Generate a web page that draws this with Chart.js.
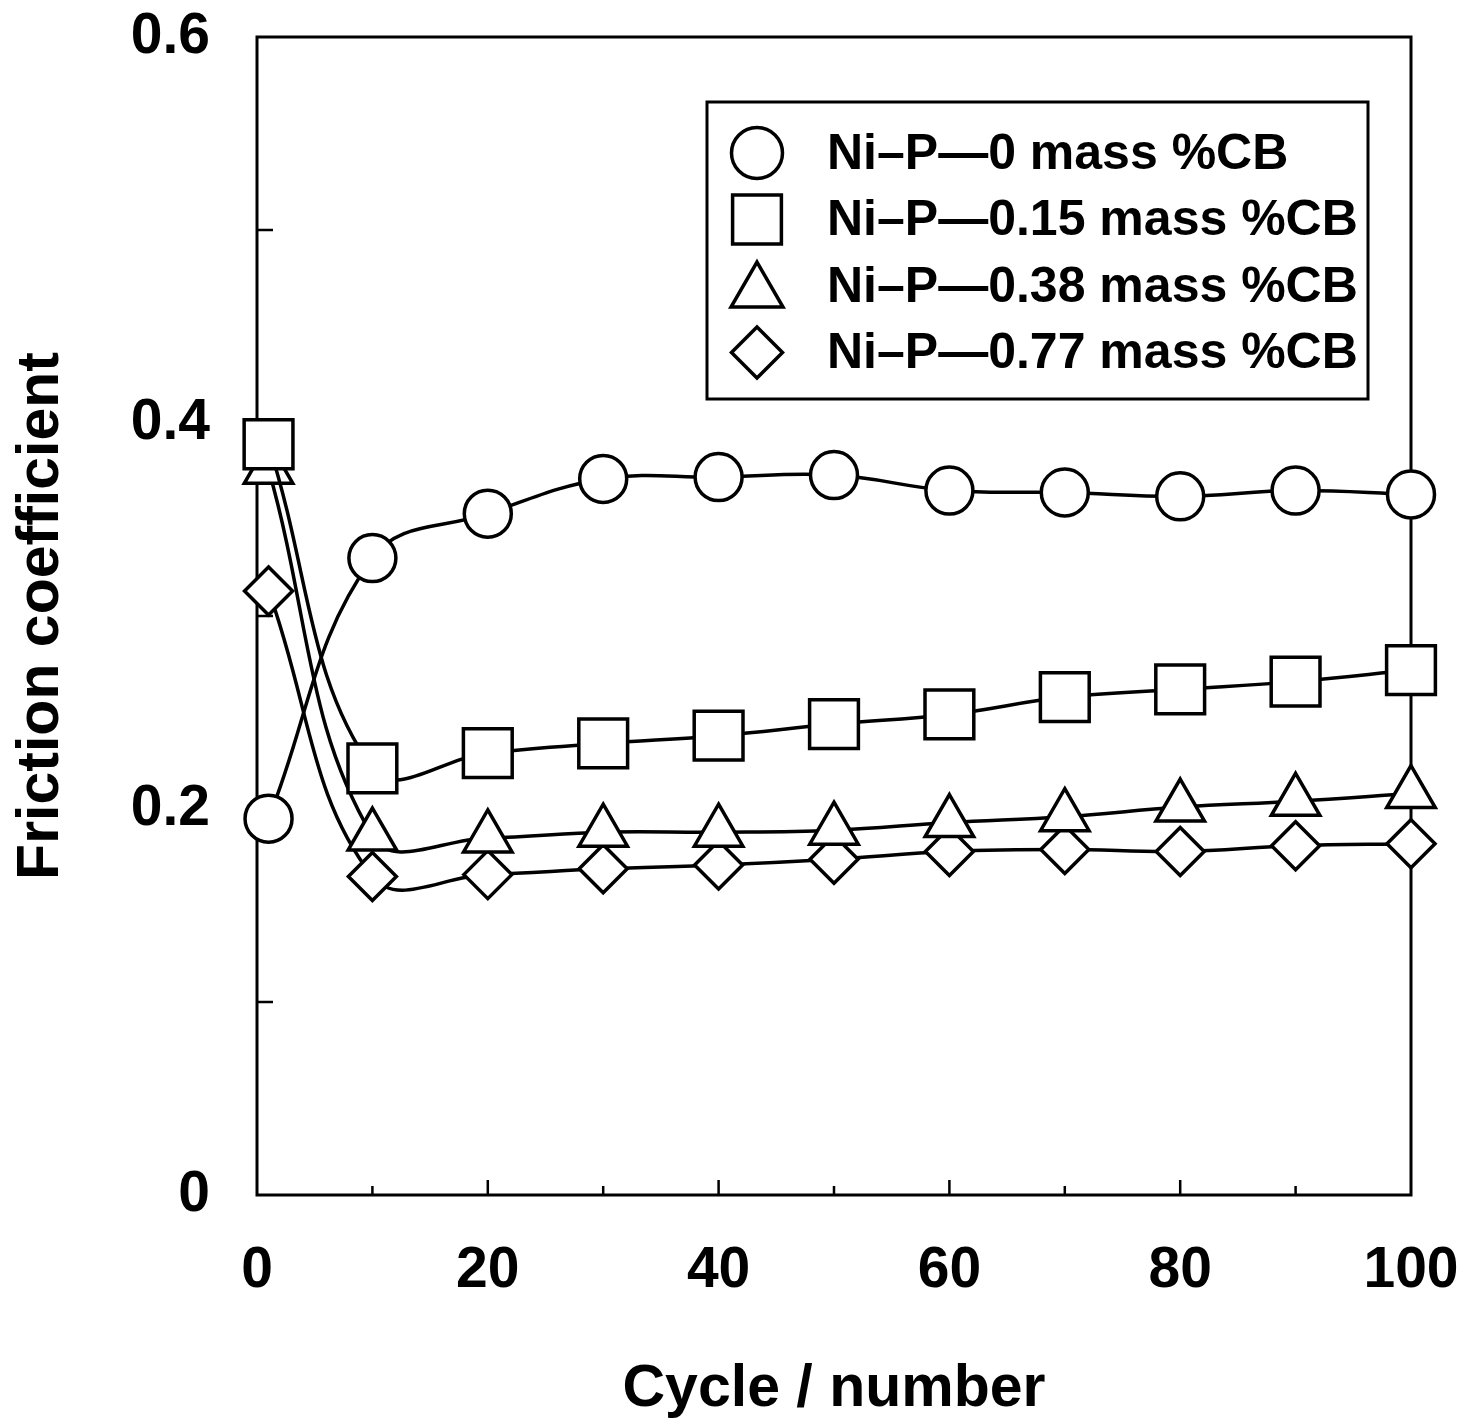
<!DOCTYPE html>
<html>
<head>
<meta charset="utf-8">
<script src="https://cdn.jsdelivr.net/npm/chart.js@4.4.1/dist/chart.umd.min.js"></script>
<style>
  html, body { margin: 0; padding: 0; background: #fff; }
  #wrap { width: 1467px; height: 1421px; }
</style>
</head>
<body>
<div id="wrap"><canvas id="chart"></canvas></div>
<script>
// cycle numbers where friction was measured
const cycles = [1, 10, 20, 30, 40, 50, 60, 70, 80, 90, 100];

// friction coefficient for each coating
const cb0   = [0.195, 0.330, 0.353, 0.371, 0.372, 0.373, 0.365, 0.364, 0.362, 0.365, 0.363];
const cb015 = [0.389, 0.221, 0.229, 0.234, 0.238, 0.244, 0.249, 0.258, 0.262, 0.266, 0.272];
const cb038 = [0.376, 0.186, 0.185, 0.188, 0.188, 0.189, 0.193, 0.196, 0.201, 0.204, 0.208];
const cb077 = [0.313, 0.165, 0.166, 0.169, 0.171, 0.174, 0.178, 0.179, 0.178, 0.181, 0.182];

const seriesNames = [
  "Ni–P—0 mass %CB",
  "Ni–P—0.15 mass %CB",
  "Ni–P—0.38 mass %CB",
  "Ni–P—0.77 mass %CB",
];

// labelled ticks
const xTickLabels = ["0", "20", "40", "60", "80", "100"];
const yTickLabels = ["0", "0.2", "0.4", "0.6"];

const FONT = '"Liberation Sans", Arial, Helvetica, sans-serif';

const toPoints = (vals) => vals.map((v, i) => ({ x: cycles[i], y: v }));

const markerStyles = [
  { pointStyle: "circle", pointRadius: 23.5 },
  { pointStyle: "rect", pointRadius: 34.5 },
  { pointStyle: "triangle", pointRadius: 28 },
  { pointStyle: "rectRot", pointRadius: 24 },
];

const allSeries = [cb0, cb015, cb038, cb077];

const datasets = allSeries.map((vals, i) => ({
  label: seriesNames[i],
  data: toPoints(vals),
  borderColor: "#000",
  backgroundColor: "#fff",
  borderWidth: 3.5,
  pointBorderWidth: 3.5,
  pointBackgroundColor: "#fff",
  pointBorderColor: "#000",
  pointStyle: markerStyles[i].pointStyle,
  pointRadius: markerStyles[i].pointRadius,
  tension: 0.4,
  clip: false,
}));

// frame around the plot plus the short inward ticks
const framePlugin = {
  id: "frame",
  beforeDatasetsDraw(chart) {
    const { ctx, chartArea: a, scales } = chart;
    ctx.save();
    ctx.strokeStyle = "#000";
    ctx.lineWidth = 3;
    ctx.strokeRect(a.left, a.top, a.right - a.left, a.bottom - a.top);

    ctx.lineWidth = 2.5;
    ctx.beginPath();
    scales.x.ticks.forEach((t) => {
      if (t.value <= 0 || t.value >= 100) return;
      const px = scales.x.getPixelForValue(t.value);
      const len = t.value % 20 === 0 ? 15 : 9;
      ctx.moveTo(px, a.bottom);
      ctx.lineTo(px, a.bottom - len);
    });
    scales.y.ticks.forEach((t) => {
      if (t.value <= 0 || t.value >= 0.6) return;
      const py = scales.y.getPixelForValue(t.value);
      ctx.moveTo(a.left, py);
      ctx.lineTo(a.left + 16, py);
    });
    ctx.stroke();
    ctx.restore();
  },
};

// boxed legend in the upper right of the plot
const legendPlugin = {
  id: "boxLegend",
  afterDraw(chart) {
    const { ctx, chartArea: a } = chart;
    const boxW = 661, boxH = 297;
    const bx = a.right - 43 - boxW;
    const by = a.top + 65;
    ctx.save();
    ctx.fillStyle = "#fff";
    ctx.fillRect(bx, by, boxW, boxH);
    ctx.strokeStyle = "#000";
    ctx.lineWidth = 3;
    ctx.strokeRect(bx, by, boxW, boxH);

    ctx.font = "bold 50px " + FONT;
    ctx.textBaseline = "middle";
    ctx.textAlign = "left";
    datasets.forEach((ds, i) => {
      const y = by + 51 + i * 66.5;
      const mx = bx + 50;
      ctx.fillStyle = "#fff";
      ctx.strokeStyle = "#000";
      ctx.lineWidth = 3.5;
      Chart.helpers.drawPoint(ctx, {
        pointStyle: ds.pointStyle,
        radius: ds.pointStyle === "triangle" ? 30 : ds.pointStyle === "rect" ? 34.5 : 25.5,
        rotation: 0,
        borderWidth: 3.5,
      }, mx, ds.pointStyle === "triangle" ? y + 6 : y);
      ctx.fillStyle = "#000";
      ctx.fillText(ds.label, bx + 120, y + 2);
    });
    ctx.restore();
  },
};

new Chart(document.getElementById("chart"), {
  type: "line",
  data: { datasets },
  options: {
    responsive: true,
    maintainAspectRatio: false,
    animation: false,
    devicePixelRatio: 1,
    layout: { autoPadding: false, padding: { top: 37, right: 56, left: 0, bottom: 0 } },
    plugins: {
      legend: { display: false },
      tooltip: { enabled: false },
    },
    scales: {
      x: {
        type: "linear",
        min: 0,
        max: 100,
        afterFit: (s) => {
          s.height = 226;
          s.paddingLeft = 0;
          s.paddingRight = 0;
        },
        grid: { display: false, drawTicks: false },
        border: { display: false },
        ticks: {
          stepSize: 10,
          autoSkip: false,
          maxRotation: 0,
          padding: 42,
          color: "#000",
          font: { family: FONT, size: 57, weight: "bold" },
          callback: (v) => (xTickLabels.includes(String(v)) ? String(v) : ""),
        },
        title: {
          display: true,
          text: "Cycle / number",
          color: "#000",
          font: { family: FONT, size: 59, weight: "bold", lineHeight: 1.0 },
          padding: { top: 0, bottom: 2 },
        },
      },
      y: {
        min: 0,
        max: 0.6,
        afterFit: (s) => {
          s.width = 257;
          s.paddingTop = 0;
          s.paddingBottom = 0;
        },
        grid: { display: false, drawTicks: false },
        border: { display: false },
        ticks: {
          stepSize: 0.1,
          autoSkip: false,
          padding: 47,
          color: "#000",
          font: { family: FONT, size: 57, weight: "bold" },
          callback: (v) => {
            const s = String(Number(v.toFixed(1)));
            return yTickLabels.includes(s) ? s : "";
          },
        },
        title: {
          display: true,
          text: "Friction coefficient",
          color: "#000",
          font: { family: FONT, size: 59, weight: "bold", lineHeight: 1.0 },
          padding: { top: 12, bottom: 0 },
        },
      },
    },
  },
  plugins: [framePlugin, legendPlugin],
});
</script>
</body>
</html>
